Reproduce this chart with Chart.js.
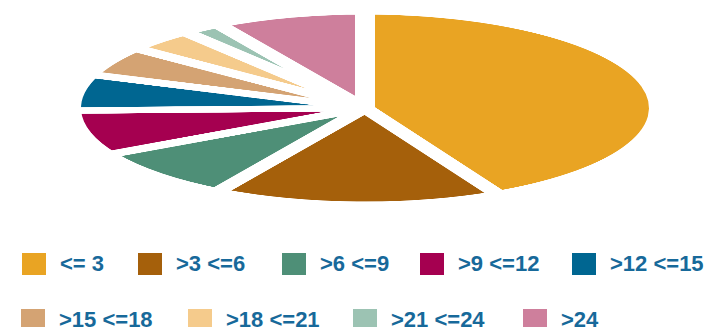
<!DOCTYPE html>
<html>
<head>
<meta charset="utf-8">
<script src="https://cdn.jsdelivr.net/npm/chart.js@4/dist/chart.umd.min.js"></script>
<style>
  html, body { margin: 0; padding: 0; background: #fff; }
  #wrap { position: relative; width: 708px; height: 327px; overflow: hidden; }
  #pie { position: absolute; left: 0; top: 7.5px; transform: scaleY(0.329); transform-origin: 0 0; }
  .item { position: absolute; font: bold 22px "Liberation Sans", Arial, sans-serif; color: #17699a; white-space: nowrap; }
  .box { position: absolute; width: 24px; height: 22px; }
</style>
</head>
<body>
<div id="wrap">
  <canvas id="pie" width="708" height="608"></canvas>
  <div id="legend"></div>
</div>
<script>
document.addEventListener("DOMContentLoaded", function () {
    // categories and share of each (percent)
    var labels = ['<= 3', '>3 <=6', '>6 <=9', '>9 <=12', '>12 <=15', '>15 <=18', '>18 <=21', '>21 <=24', '>24'];
    var values = [42.5, 15.8, 8.6, 7.6, 6.1, 5.0, 3.8, 2.2, 8.3];
    var colors = ['#E9A423', '#A5600B', '#4E8F77', '#A50050', '#006691', '#D4A373', '#F5CB8C', '#9CC3B3', '#CE7F9C'];

    // legend positions (left of box, row top)
    var legendX = [22, 138, 282, 420, 572, 21, 188, 353, 523];
    var rowTop = [253, 309];

    var legend = document.getElementById('legend');
    labels.forEach(function (lab, i) {
        var top = i < 5 ? rowTop[0] : rowTop[1];
        var box = document.createElement('div');
        box.className = 'box';
        box.style.left = legendX[i] + 'px';
        box.style.top = top + 'px';
        box.style.background = colors[i];
        legend.appendChild(box);
        var txt = document.createElement('div');
        txt.className = 'item';
        txt.textContent = lab;
        txt.style.left = (legendX[i] + 38) + 'px';
        txt.style.top = (top - 2) + 'px';
        legend.appendChild(txt);
    });

    new Chart(document.getElementById('pie'), {
        type: 'pie',
        data: {
            labels: labels,
            datasets: [{
                data: values,
                backgroundColor: colors,
                borderColor: '#ffffff',
                borderWidth: 20
            }]
        },
        options: {
            responsive: false,
            animation: false,
            layout: { padding: { left: 22 } },
            plugins: {
                legend: { display: false },
                tooltip: { enabled: false }
            }
        }
    });
});
</script>
</body>
</html>
